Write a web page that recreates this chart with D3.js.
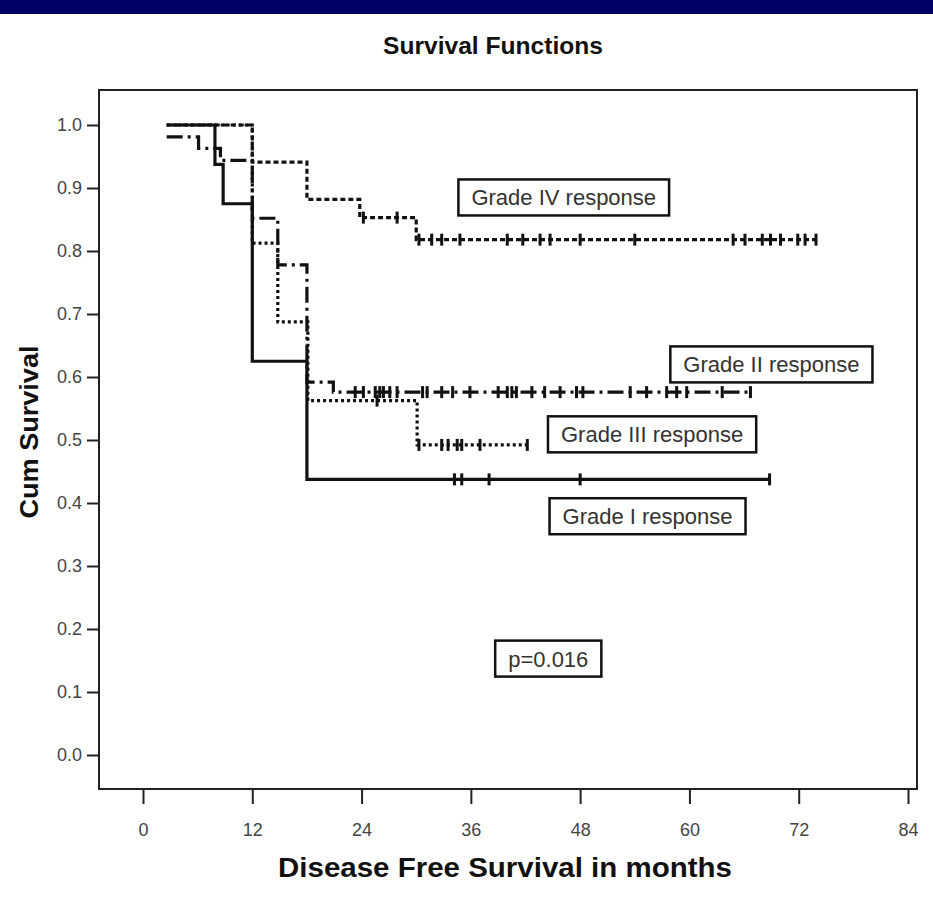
<!DOCTYPE html>
<html>
<head>
<meta charset="utf-8">
<script src="https://cdn.jsdelivr.net/npm/d3@7/dist/d3.min.js"></script>
<style>
  body { margin: 0; background: #fff; }
  svg { display: block; font-family: "Liberation Sans", Arial, sans-serif; }
</style>
</head>
<body>
<svg width="933" height="901"></svg>
<script>
// tick values
const xTicks = [0, 12, 24, 36, 48, 60, 72, 84];
const yTicks = [0, 0.1, 0.2, 0.3, 0.4, 0.5, 0.6, 0.7, 0.8, 0.9, 1.0];

// Kaplan-Meier steps: [months, cum survival after the step]
const grade1Steps = [[2.6, 1], [7.9, 0.9375], [8.8, 0.875], [12, 0.625], [18, 0.4375]];
const grade1Censored = [34.2, 35, 38, 48, 68.8];

const grade2Steps = [[2.6, 0.981], [6.1, 0.963], [8.5, 0.944], [12, 0.852], [14.8, 0.778], [18, 0.592], [20.9, 0.576]];
const grade2Censored = [23.3, 24.2, 25.5, 26, 26.4, 27.1, 27.9, 30.7, 31.2, 32.8, 34, 35.9, 39, 40, 40.5, 41,
  42.7, 44.1, 45.8, 47.6, 48.3, 53.5, 55.3, 57.5, 58.6, 59.7, 63.6, 66.7];

const grade3Steps = [[2.6, 1], [12, 0.8125], [14.8, 0.6875], [18.1, 0.5625], [30.1, 0.4922]];
const grade3Censored = [25.7, 30.3, 32.8, 33.5, 34.5, 35, 37, 42.2];

const grade4Steps = [[2.6, 1], [12, 0.941], [18, 0.882], [23.8, 0.853], [30, 0.818]];
const grade4Censored = [24.2, 27.9, 30.3, 31.7, 32.8, 34.8, 40, 41.7, 43.6, 44.7, 48, 54, 64.8, 66.1,
  68, 68.9, 70, 71.9, 72.7, 73.9];

// annotation boxes
const noteTexts = ["Grade IV response", "Grade II response", "Grade III response", "Grade I response", "p=0.016"];
const noteMonths = [46.2, 69.0, 55.9, 55.4, 44.5];
const noteSurv = [0.885, 0.620, 0.509, 0.379, 0.153];

const svg = d3.select("svg");

// navy strip on top
svg.append("rect").attr("x", 0).attr("y", 0).attr("width", 933).attr("height", 14).attr("fill", "#000066");

const x = d3.scaleLinear().domain([0, 84]).range([143, 908]);
const y = d3.scaleLinear().domain([0, 1]).range([755, 125]);

// frame
svg.append("rect")
  .attr("x", 99).attr("y", 90).attr("width", 818).attr("height", 699)
  .attr("fill", "none").attr("stroke", "#222").attr("stroke-width", 2);

// axes
const yAxis = svg.append("g")
  .attr("transform", "translate(99,0)")
  .call(d3.axisLeft(y).tickValues(yTicks).tickFormat(d3.format(".1f")).tickSize(12).tickPadding(5));
const xAxis = svg.append("g")
  .attr("transform", "translate(0,790)")
  .call(d3.axisBottom(x).tickValues(xTicks).tickSize(14).tickPadding(19));

[xAxis, yAxis].forEach(a => {
  a.select(".domain").remove();
  a.selectAll("line").attr("stroke", "#222").attr("stroke-width", 2);
  a.selectAll("text").attr("font-size", 18).attr("fill", "#444")
    .attr("font-family", "'Liberation Sans', Arial, sans-serif");
});

// titles
svg.append("text").attr("x", 493).attr("y", 54).attr("text-anchor", "middle")
  .attr("font-size", 24).attr("font-weight", "bold").attr("fill", "#111")
  .attr("textLength", 220).attr("lengthAdjust", "spacingAndGlyphs")
  .text("Survival Functions");
svg.append("text").attr("x", 505).attr("y", 877).attr("text-anchor", "middle")
  .attr("font-size", 27).attr("font-weight", "bold").attr("fill", "#111")
  .attr("textLength", 454).attr("lengthAdjust", "spacingAndGlyphs")
  .text("Disease Free Survival in months");
svg.append("text").attr("transform", "translate(38,432) rotate(-90)").attr("text-anchor", "middle")
  .attr("font-size", 26).attr("font-weight", "bold").attr("fill", "#111")
  .attr("textLength", 173).attr("lengthAdjust", "spacingAndGlyphs")
  .text("Cum Survival");

// curves
const groups = [
  { steps: grade1Steps, censored: grade1Censored, dash: null },
  { steps: grade2Steps, censored: grade2Censored, dash: "16,5,3,5" },
  { steps: grade3Steps, censored: grade3Censored, dash: "3,3" },
  { steps: grade4Steps, censored: grade4Censored, dash: "5,3" }
];

const line = d3.line().x(d => x(d[0])).y(d => y(d[1])).curve(d3.curveStepAfter);

// survival value at time t for a step list
function survAt(steps, t) {
  let s = steps[0][1];
  steps.forEach(d => { if (d[0] <= t) s = d[1]; });
  return s;
}

const curves = svg.append("g");
groups.forEach(g => {
  const end = d3.max(g.censored);
  const pts = g.steps.concat([[end, survAt(g.steps, end)]]);
  curves.append("path")
    .attr("d", line(pts))
    .attr("fill", "none")
    .attr("stroke", "#111")
    .attr("stroke-width", 3.2)
    .attr("stroke-dasharray", g.dash);

  curves.append("g").selectAll("line")
    .data(g.censored)
    .join("line")
    .attr("x1", d => x(d)).attr("x2", d => x(d))
    .attr("y1", d => y(survAt(g.steps, d)) - 6)
    .attr("y2", d => y(survAt(g.steps, d)) + 6)
    .attr("stroke", "#111").attr("stroke-width", 3);
});

// labelled boxes
const notes = svg.append("g").selectAll("g")
  .data(noteTexts)
  .join("g")
  .attr("transform", (d, i) => `translate(${x(noteMonths[i])},${y(noteSurv[i])})`);

notes.append("rect").attr("class", "box");
notes.append("text")
  .attr("text-anchor", "middle").attr("dy", "0.36em")
  .attr("font-size", 22).attr("fill", "#333")
  .text(d => d);

notes.each(function () {
  const g = d3.select(this);
  const w = g.select("text").node().getComputedTextLength() + 26;
  g.select("rect")
    .attr("x", -w / 2).attr("y", -18).attr("width", w).attr("height", 36)
    .attr("fill", "#fff").attr("stroke", "#111").attr("stroke-width", 2.5);
});
</script>
</body>
</html>
